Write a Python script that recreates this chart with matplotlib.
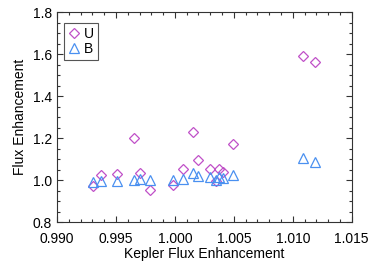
import numpy as np
import matplotlib
matplotlib.use('Agg')
import matplotlib.pyplot as plt
from matplotlib.ticker import MultipleLocator

plt.rcParams['font.family'] = ['Liberation Sans', 'DejaVu Sans']

# Kepler flux enhancement for each flare
kepler = [0.99308, 0.99373, 0.99505, 0.99650, 0.99700, 0.99790, 0.99982,
          1.00073, 1.00153, 1.00194, 1.00300, 1.00350, 1.00374, 1.00410,
          1.00495, 1.01087, 1.01192]
# U and B band enhancement
flux_u = [0.974, 1.023, 1.029, 1.200, 1.032, 0.953, 0.976, 1.051, 1.231,
          1.098, 1.054, 0.994, 1.052, 1.038, 1.172, 1.592, 1.563]
flux_b = [0.989, 0.997, 0.997, 0.999, 1.004, 1.000, 1.000, 1.004, 1.035,
          1.019, 1.013, 0.998, 1.015, 1.008, 1.024, 1.106, 1.088]

fig = plt.figure(figsize=(3.74, 2.67), dpi=100)
ax = fig.add_axes([0.1524, 0.1685, 0.7880, 0.7855])

ax.plot(kepler, flux_u, 'D', ms=5, mfc='none', mec='#c050c8', mew=0.9, label='U')
ax.plot(kepler, flux_b, '^', ms=6.5, mfc='none', mec='#4a90f0', mew=0.9, label='B')

ax.set_xlim(0.990, 1.015)
ax.set_ylim(0.8, 1.8)
ax.xaxis.set_major_locator(MultipleLocator(0.005))
ax.xaxis.set_minor_locator(MultipleLocator(0.001))
ax.yaxis.set_major_locator(MultipleLocator(0.2))
ax.yaxis.set_minor_locator(MultipleLocator(0.05))
ax.xaxis.set_major_formatter(plt.FormatStrFormatter('%.3f'))
ax.yaxis.set_major_formatter(plt.FormatStrFormatter('%.1f'))
ax.tick_params(which='both', direction='in', top=True, right=True,
               labelsize=10, color='#333333', width=0.8)
ax.tick_params(which='major', length=4)
ax.tick_params(which='minor', length=2)
ax.tick_params(axis='x', pad=7)
ax.tick_params(axis='y', pad=3.5)
for s in ax.spines.values():
    s.set_color('#333333')
    s.set_linewidth(0.8)

ax.set_xlabel('Kepler Flux Enhancement', fontsize=10, labelpad=1)
ax.set_ylabel('Flux Enhancement', fontsize=10, labelpad=4)

leg = ax.legend(loc='upper left', bbox_to_anchor=(0.024, 0.949), borderaxespad=0,
                fontsize=10, handlelength=0.8, handletextpad=0.3,
                borderpad=0.3, labelspacing=0.05, fancybox=False, framealpha=1)
leg.get_frame().set_edgecolor('#555555')
leg.get_frame().set_linewidth(0.8)

fig.savefig('out.png', dpi=100)
